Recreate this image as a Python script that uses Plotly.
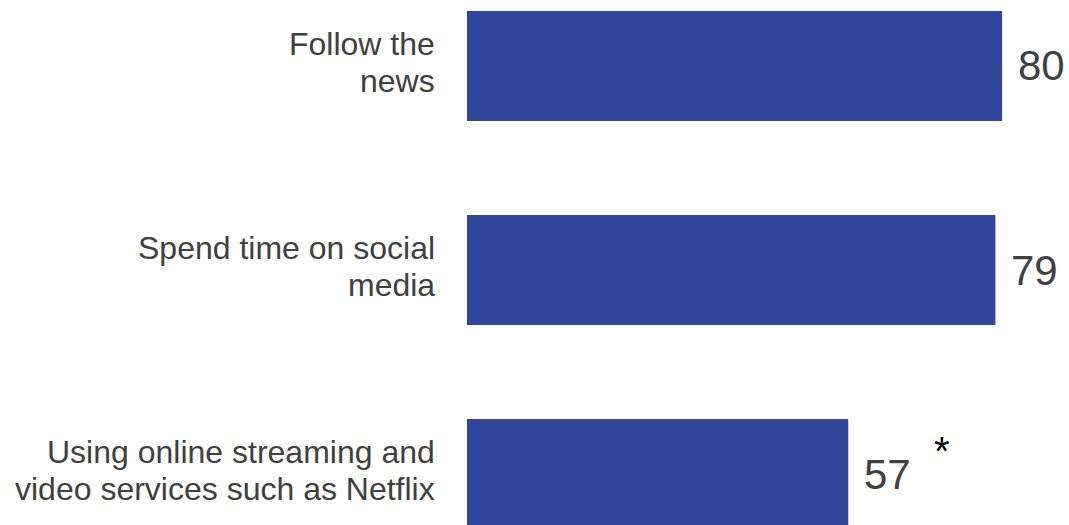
import plotly.graph_objects as go

# Share of respondents doing each activity
label_lines = [
    ["Follow the", "news"],
    ["Spend time on social", "media"],
    ["Using online streaming and", "video services such as Netflix"],
]
values = [80, 79, 57]
flags = ["", "", "*"]

BAR_COLOR = "#30469B"
TEXT_COLOR = "#404040"
FONT = "Liberation Sans, Arial, sans-serif"

positions = list(range(len(values)))

fig = go.Figure(
    go.Bar(
        x=values,
        y=positions,
        orientation="h",
        width=0.54,
        marker=dict(color=BAR_COLOR, line=dict(width=0)),
        hoverinfo="skip",
    )
)

annotations = []
for pos, lines, val, flag in zip(positions, label_lines, values, flags):
    # two-line category label, right-aligned left of the bars
    for k, line in enumerate(lines):
        annotations.append(dict(
            x=0, y=pos, xref="x", yref="y",
            text=line, showarrow=False,
            xanchor="right", yanchor="middle",
            xshift=-30, yshift=22 - 37 * k,
            font=dict(family=FONT, size=32, color=TEXT_COLOR),
        ))
    # value label at the end of the bar
    annotations.append(dict(
        x=val, y=pos, xref="x", yref="y",
        text=str(val), showarrow=False,
        xanchor="left", yanchor="middle", xshift=14,
        font=dict(family=FONT, size=42, color=TEXT_COLOR),
    ))
    if flag:
        annotations.append(dict(
            x=val, y=pos, xref="x", yref="y",
            text=flag, showarrow=False,
            xanchor="left", yanchor="middle", xshift=84, yshift=23,
            font=dict(family="Liberation Sans, Arial, sans-serif", size=40, color="#000000"),
        ))

fig.update_layout(
    width=1069, height=525,
    margin=dict(l=0, r=0, t=0, b=0),
    paper_bgcolor="white", plot_bgcolor="white",
    showlegend=False,
    xaxis=dict(domain=[467 / 1069, 1], range=[0, 90], visible=False, fixedrange=True),
    yaxis=dict(range=[2.25, -0.3235], visible=False, fixedrange=True),
    annotations=annotations,
)

fig.write_html("out.html")
